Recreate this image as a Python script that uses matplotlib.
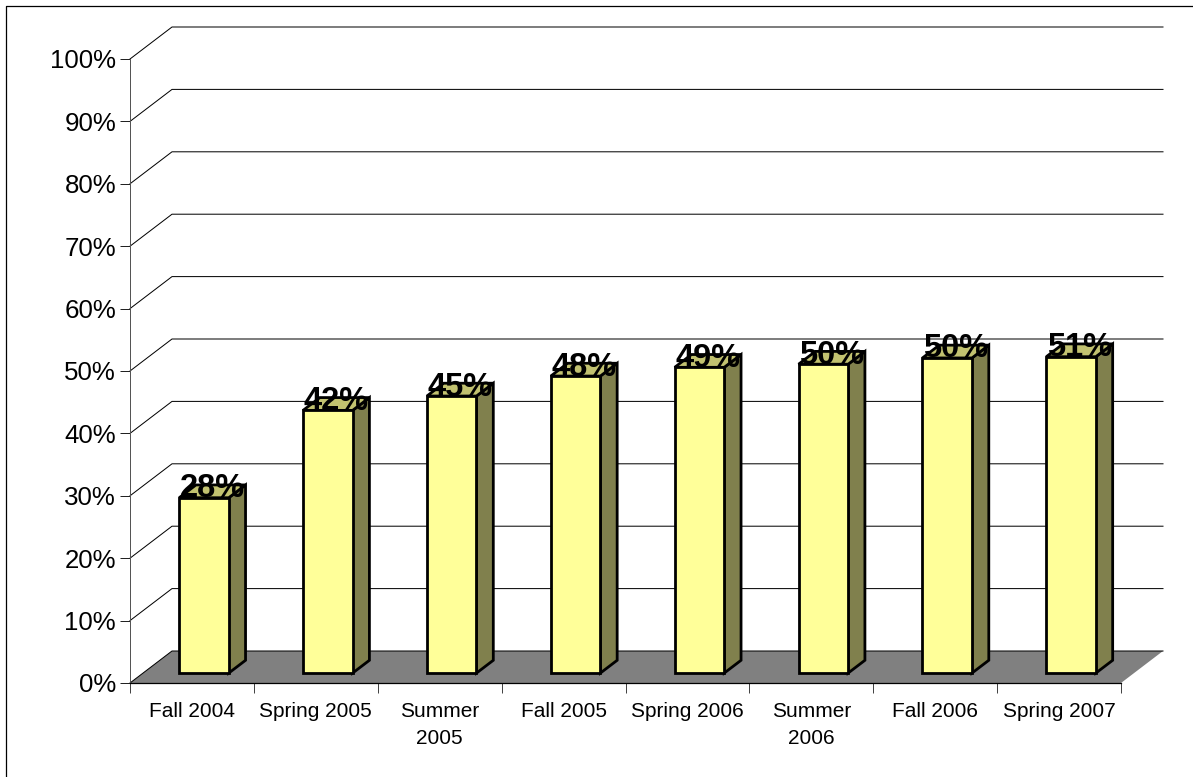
import matplotlib
matplotlib.use("Agg")
import matplotlib.pyplot as plt
from matplotlib.lines import Line2D
from matplotlib.patches import Polygon

categories = ["Fall 2004", "Spring 2005", "Summer\n2005", "Fall 2005",
              "Spring 2006", "Summer\n2006", "Fall 2006", "Spring 2007"]
values = [28.1, 42.1, 44.4, 47.6, 49.0, 49.5, 50.5, 50.7]
labels = ["28%", "42%", "45%", "48%", "49%", "50%", "50%", "51%"]
y_ticks = list(range(0, 101, 10))

W, H = 1193, 777
plt.rcParams["font.family"] = ["Liberation Sans", "DejaVu Sans"]
fig = plt.figure(figsize=(W / 100, H / 100), dpi=100, facecolor="white")
L, R, T, B = 130, 1121, 59, 683
ax = fig.add_axes([L / W, 1 - B / H, (R - L) / W, (B - T) / H])
n = len(categories)
ax.set_xlim(0, n)
ax.set_ylim(0, 100)
ax.patch.set_visible(False)
for s in ("top", "right"):
    ax.spines[s].set_visible(False)
ax.spines["left"].set_linewidth(0.72)
ax.spines["left"].set_color("#555555")
ax.spines["bottom"].set_linewidth(0.9)

px_x = n / (R - L)
px_y = 100 / (B - T)
DX, DY = 42 * px_x, 32 * px_y

def proj(x, y, d):
    return (x + DX * d, y + DY * d)

ax.add_patch(Polygon([proj(0, 0, 0), proj(n, 0, 0), proj(n, 0, 1), proj(0, 0, 1)],
                     closed=True, fc="#808080", ec="none", clip_on=False, zorder=1))
for v in y_ticks:
    p0, p1, p2 = proj(0, v, 0), proj(0, v, 1), proj(n, v, 1)
    ax.plot([p0[0], p1[0], p2[0]], [p0[1], p1[1], p2[1]], color="black", lw=0.72,
            clip_on=False, zorder=1.5, solid_joinstyle="miter")

width = 0.4
d0, d1 = 0.31, 0.71
lw = 2.0
for i, v in enumerate(values):
    x0 = i + 0.492 - width / 2
    x1 = x0 + width
    top = [proj(x0, v, d0), proj(x1, v, d0), proj(x1, v, d1), proj(x0, v, d1)]
    side = [proj(x1, 0, d0), proj(x1, 0, d1), proj(x1, v, d1), proj(x1, v, d0)]
    front = [proj(x0, 0, d0), proj(x1, 0, d0), proj(x1, v, d0), proj(x0, v, d0)]
    ax.add_patch(Polygon(side, closed=True, fc="#80804D", ec="black", lw=lw, clip_on=False, zorder=3, joinstyle="miter"))
    ax.add_patch(Polygon(top, closed=True, fc="#C2C270", ec="black", lw=lw, clip_on=False, zorder=3, joinstyle="miter"))
    ax.add_patch(Polygon(front, closed=True, fc="#FFFF99", ec="black", lw=lw, clip_on=False, zorder=3.1, joinstyle="miter"))
    ax.annotate(labels[i], (x0 + width / 2, v), xytext=(15.5, 7.5), textcoords="offset points",
                ha="center", va="baseline", fontsize=23.5, fontweight="bold", color="black",
                zorder=5, annotation_clip=False)

ax.set_yticks(y_ticks)
ax.set_yticklabels([f"{v}%" for v in y_ticks], fontsize=18.6)
ax.set_xticks(range(n + 1))
ax.set_xticklabels([""] * (n + 1))
ax.tick_params(axis="y", length=7.5, width=0.72, pad=2.5, color="#222222")
ax.tick_params(axis="x", length=7.5, width=0.72, color="#444444")
for i, c in enumerate(categories):
    ax.annotate(c, (i + 0.5, 0), xytext=(0, -14), textcoords="offset points", ha="center", va="top",
                fontsize=15, linespacing=1.5, annotation_clip=False)

fx = lambda p: p / W
fy = lambda p: 1 - p / H
fig.add_artist(Line2D([fx(6), fx(6), fx(1193)], [fy(777), fy(5.7), fy(5.7)], color="black", lw=0.9))
fig.savefig("out.png", dpi=100, facecolor="white")
